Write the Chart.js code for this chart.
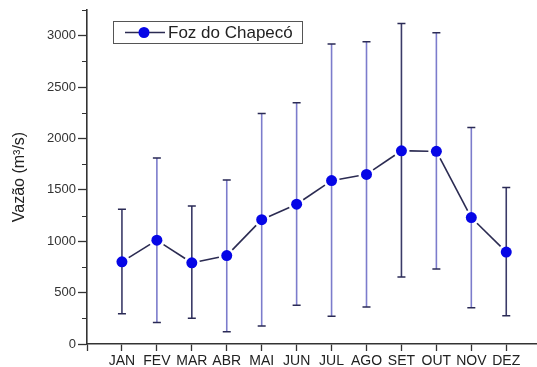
<!DOCTYPE html>
<html>
<head>
<meta charset="utf-8">
<script src="https://cdn.jsdelivr.net/npm/chart.js@4.4.1/dist/chart.umd.min.js"></script>
<style>
  html, body { margin: 0; padding: 0; background: #fff; }
  #wrap { width: 537px; height: 367px; position: relative; }
</style>
</head>
<body>
<div id="wrap"><canvas id="c" width="537" height="367"></canvas></div>
<script>
// Monthly discharge at Foz do Chapecó: mean with min/max range
const months = ['JAN', 'FEV', 'MAR', 'ABR', 'MAI', 'JUN', 'JUL', 'AGO', 'SET', 'OUT', 'NOV', 'DEZ'];
const meanFlow = [800, 1010, 790, 860, 1210, 1360, 1590, 1650, 1880, 1875, 1230, 895];
const minFlow  = [295, 208, 250, 120, 175, 377, 270, 360, 652, 730, 353, 276];
const maxFlow  = [1311, 1811, 1344, 1597, 2243, 2347, 2918, 2941, 3119, 3028, 2106, 1522];
const yMajorTicks = [0, 500, 1000, 1500, 2000, 2500, 3000];
const yMinorTicks = [250, 750, 1250, 1750, 2250, 2750, 3250];
const seriesName = 'Foz do Chapecó';
const yTitle = 'Vazão (m³/s)';

const FONT = '"Liberation Sans", Arial, sans-serif';
const AXIS = '#333333';
const LINE = '#2b2b52';
const DOT = '#0606e6';
const BAR_LIGHT = '#7c7ccc';
const BAR_DARK = '#3a3a68';
const barTone = [1, 0, 1, 0, 0, 0, 0, 0, 1, 0, 0, 1];
const X_MAX = 12.88;

// min/max range bars, the connecting line (gapped at each marker), minor ticks and the legend
const rangeAndLine = {
  id: 'rangeAndLine',
  beforeDatasetsDraw(chart) {
    const ctx = chart.ctx;
    const xs = chart.scales.x, ys = chart.scales.y;
    ctx.save();
    for (let i = 0; i < months.length; i++) {
      const px = xs.getPixelForValue(i + 1);
      const top = ys.getPixelForValue(maxFlow[i]);
      const bot = ys.getPixelForValue(minFlow[i]);
      ctx.strokeStyle = barTone[i] ? BAR_DARK : BAR_LIGHT;
      ctx.lineWidth = 1.6;
      ctx.beginPath();
      ctx.moveTo(px, top);
      ctx.lineTo(px, bot);
      ctx.stroke();
      ctx.strokeStyle = '#2a2a55';
      ctx.lineWidth = 1.5;
      ctx.beginPath();
      ctx.moveTo(px - 4, top); ctx.lineTo(px + 4, top);
      ctx.moveTo(px - 4, bot); ctx.lineTo(px + 4, bot);
      ctx.stroke();
    }
    const pts = chart.getDatasetMeta(0).data;
    const gap = 8;
    ctx.strokeStyle = LINE;
    ctx.lineWidth = 1.6;
    for (let i = 0; i + 1 < pts.length; i++) {
      const a = pts[i], b = pts[i + 1];
      const dx = b.x - a.x, dy = b.y - a.y;
      const len = Math.hypot(dx, dy);
      if (len <= 2 * gap) continue;
      const ux = dx / len, uy = dy / len;
      ctx.beginPath();
      ctx.moveTo(a.x + ux * gap, a.y + uy * gap);
      ctx.lineTo(b.x - ux * gap, b.y - uy * gap);
      ctx.stroke();
    }
    ctx.restore();
  },
  afterDraw(chart) {
    const ctx = chart.ctx;
    const ys = chart.scales.y;
    const left = chart.chartArea.left;
    ctx.save();
    ctx.strokeStyle = AXIS;
    ctx.lineWidth = 1.2;
    ctx.beginPath();
    yMinorTicks.forEach(v => {
      const py = Math.round(ys.getPixelForValue(v)) + 0.5;
      ctx.moveTo(left - 5, py);
      ctx.lineTo(left, py);
    });
    ctx.stroke();
    const bx = 113.5, by = 21.5, bw = 189, bh = 22;
    ctx.fillStyle = '#fff';
    ctx.fillRect(bx, by, bw, bh);
    ctx.strokeStyle = '#555';
    ctx.lineWidth = 1;
    ctx.strokeRect(bx, by, bw, bh);
    const cy = by + bh / 2;
    ctx.strokeStyle = LINE;
    ctx.lineWidth = 1.6;
    ctx.beginPath();
    ctx.moveTo(125, cy); ctx.lineTo(165, cy);
    ctx.stroke();
    ctx.fillStyle = DOT;
    ctx.beginPath();
    ctx.arc(144, cy, 5.5, 0, Math.PI * 2);
    ctx.fill();
    ctx.fillStyle = '#222';
    ctx.font = '17px ' + FONT;
    ctx.textBaseline = 'middle';
    ctx.textAlign = 'left';
    ctx.fillText(seriesName, 168, cy + 1);
    ctx.restore();
  }
};

new Chart(document.getElementById('c'), {
  type: 'scatter',
  data: {
    datasets: [{
      label: seriesName,
      data: meanFlow.map((v, i) => ({ x: i + 1, y: v })),
      showLine: false,
      pointRadius: 5.5,
      pointHoverRadius: 5.5,
      pointBackgroundColor: DOT,
      pointBorderColor: DOT,
      pointBorderWidth: 0
    }]
  },
  options: {
    responsive: false,
    animation: false,
    events: [],
    layout: { autoPadding: false, padding: { top: 10, right: 0, left: 0, bottom: 0 } },
    plugins: { legend: { display: false }, tooltip: { enabled: false } },
    scales: {
      x: {
        type: 'linear',
        min: 0,
        max: X_MAX,
        bounds: 'data',
        afterBuildTicks(scale) {
          scale.ticks = [0].concat(months.map((m, i) => i + 1)).map(v => ({ value: v }));
          scale.min = 0;
          scale.max = X_MAX;
        },
        afterFit(scale) {
          scale.height = 23;
          scale.paddingLeft = 0;
          scale.paddingRight = 0;
        },
        ticks: {
          autoSkip: false,
          maxRotation: 0,
          padding: 2,
          color: '#222',
          font: { family: FONT, size: 14 },
          callback: v => (v >= 1 && v <= 12) ? months[v - 1] : ''
        },
        grid: { drawOnChartArea: false, drawTicks: true, tickLength: 7, tickColor: AXIS, tickWidth: 1.3 },
        border: { display: true, color: AXIS, width: 1.6 }
      },
      y: {
        min: 0,
        max: 3250,
        afterBuildTicks(scale) {
          scale.ticks = yMajorTicks.map(v => ({ value: v }));
        },
        afterFit(scale) {
          scale.width = 87;
          scale.paddingTop = 0;
          scale.paddingBottom = 0;
        },
        ticks: {
          padding: 2,
          color: '#333',
          font: { family: FONT, size: 13 },
          callback: v => String(v)
        },
        title: {
          display: true,
          text: yTitle,
          color: '#222',
          font: { family: FONT, size: 16 },
          padding: { top: 10, bottom: 0 }
        },
        grid: { drawOnChartArea: false, drawTicks: true, tickLength: 9, tickColor: AXIS, tickWidth: 1.3 },
        border: { display: true, color: AXIS, width: 1.6 }
      }
    }
  },
  plugins: [rangeAndLine]
});
</script>
</body>
</html>
